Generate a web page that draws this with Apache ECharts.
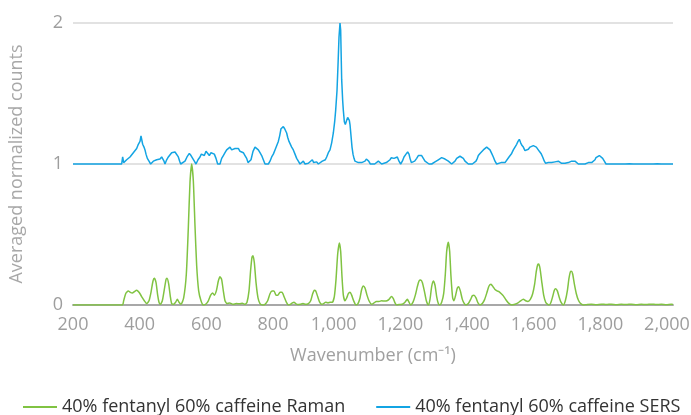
<!DOCTYPE html>
<html>
<head>
<meta charset="utf-8">
<script src="https://cdn.jsdelivr.net/npm/echarts@6/dist/echarts.min.js"></script>
<style>html,body{margin:0;padding:0;background:#fff;}#c{width:691px;height:415px;}</style>
</head>
<body>
<div id="c"></div>
<script>
const xTicks = [200, 400, 600, 800, 1000, 1200, 1400, 1600, 1800, 2000];
const yTicks = [0, 1, 2];
const seriesNames = ['40% fentanyl 60% caffeine Raman', '40% fentanyl 60% caffeine SERS'];

const ramanWavenumber = [200,348,352,358,366,372,378,384,391,398,406,414,421,428,434,440,444,449,454,458,462,468,474,479,482,487,492,496,502,508,513,518,524,532,540,546,551,556,561,566,571,577,584,591,598,606,613,619,624,630,636,641,646,651,656,662,670,680,690,700,708,716,722,728,733,737,740,744,749,755,761,768,776,784,791,797,803,809,815,821,827,833,840,846,852,858,863,868,874,882,890,898,906,913,919,924,928,934,940,946,952,958,965,972,978,984,989,994,999,1003,1007,1011,1016,1021,1026,1031,1036,1042,1049,1055,1061,1066,1071,1076,1082,1088,1096,1103,1110,1118,1126,1134,1142,1148,1153,1156,1161,1166,1171,1178,1188,1196,1203,1208,1213,1220,1227,1233,1238,1243,1248,1254,1260,1266,1271,1276,1281,1286,1291,1296,1300,1306,1312,1317,1321,1326,1330,1334,1339,1343,1348,1353,1357,1362,1368,1374,1379,1386,1393,1398,1403,1409,1415,1421,1428,1435,1442,1448,1454,1460,1466,1472,1478,1485,1491,1498,1506,1516,1526,1535,1543,1551,1558,1565,1572,1579,1585,1590,1594,1597,1601,1606,1612,1618,1624,1629,1634,1639,1644,1648,1653,1658,1664,1671,1677,1683,1688,1692,1695,1699,1704,1710,1716,1722,1731,1740,1755,1770,1785,1800,1815,1830,1845,1860,1875,1890,1905,1920,1935,1950,1965,1980,1995,2000];
const ramanCounts = [0,0,0.03,0.08,0.10,0.09,0.085,0.095,0.105,0.09,0.06,0.03,0.01,0.03,0.09,0.17,0.19,0.16,0.07,0.02,0.005,0.03,0.11,0.18,0.19,0.15,0.06,0.01,0.005,0.02,0.04,0.02,0.005,0.05,0.22,0.55,0.87,1.0,0.88,0.56,0.28,0.1,0.03,0.0,0.005,0.03,0.07,0.085,0.07,0.1,0.17,0.2,0.18,0.1,0.03,0.01,0.015,0.005,0.01,0.008,0.012,0.005,0.02,0.1,0.25,0.34,0.35,0.3,0.16,0.05,0.01,0.0,0.005,0.03,0.08,0.1,0.1,0.07,0.07,0.09,0.09,0.06,0.02,0.0,0.005,0.015,0.02,0.01,0.003,0.005,0.01,0.005,0.01,0.03,0.08,0.105,0.1,0.06,0.02,0.005,0.01,0.02,0.015,0.02,0.02,0.06,0.18,0.36,0.44,0.38,0.2,0.07,0.03,0.05,0.08,0.09,0.07,0.03,0.0,0.01,0.05,0.11,0.135,0.12,0.07,0.03,0.005,0.015,0.025,0.025,0.03,0.028,0.03,0.04,0.055,0.06,0.045,0.015,0.0,0.003,0.005,0.02,0.04,0.02,0.0,0.02,0.07,0.13,0.17,0.177,0.16,0.1,0.03,0.0,0.04,0.13,0.17,0.14,0.06,0.01,0.0,0.02,0.08,0.22,0.38,0.445,0.38,0.2,0.05,0.03,0.07,0.12,0.13,0.1,0.04,0.01,0.0,0.01,0.04,0.065,0.07,0.05,0.015,0.0,0.01,0.04,0.09,0.135,0.147,0.13,0.11,0.1,0.095,0.08,0.065,0.04,0.015,0.0,0.005,0.015,0.03,0.04,0.03,0.025,0.04,0.08,0.15,0.24,0.285,0.29,0.26,0.17,0.07,0.02,0.005,0.0,0.02,0.06,0.105,0.115,0.1,0.06,0.02,0.0,0.03,0.1,0.19,0.235,0.24,0.22,0.15,0.08,0.035,0.012,0.0,0.002,0.005,0.002,0.006,0.003,0.006,0.002,0.005,0.003,0.006,0.002,0.005,0.003,0.006,0.003,0.005,0.002,0.005,0.003];

const sersWavenumber = [200,346,349,352,356,361,366,371,376,381,386,391,396,401,404,406,409,413,416,419,423,428,433,437,441,446,451,456,461,466,469,473,476,481,486,491,496,501,506,511,516,520,523,529,536,542,549,554,559,564,569,575,581,585,589,594,599,604,609,614,619,624,629,634,641,646,651,656,661,666,671,676,681,686,691,696,701,706,711,716,721,725,728,734,740,746,751,756,761,766,771,776,781,786,791,796,801,806,811,816,820,824,828,831,835,838,841,844,848,851,856,861,866,871,876,881,886,891,896,901,906,911,918,922,926,931,936,942,948,953,957,961,966,971,976,981,985,988,992,995,998,1001,1003,1006,1009,1011,1014,1017,1021,1024,1026,1029,1031,1034,1037,1040,1043,1046,1051,1056,1061,1066,1071,1076,1080,1083,1087,1092,1098,1105,1110,1116,1121,1126,1132,1140,1145,1151,1155,1159,1163,1168,1173,1178,1183,1188,1193,1199,1204,1208,1211,1215,1219,1225,1231,1236,1241,1246,1251,1256,1262,1268,1276,1281,1286,1291,1296,1301,1306,1311,1316,1321,1326,1331,1336,1341,1346,1351,1356,1361,1366,1371,1376,1381,1386,1392,1398,1404,1409,1413,1416,1421,1426,1431,1436,1441,1446,1451,1456,1461,1466,1471,1477,1484,1490,1496,1501,1508,1512,1516,1521,1526,1531,1535,1539,1543,1546,1551,1556,1561,1566,1571,1576,1581,1586,1590,1594,1599,1604,1609,1614,1618,1621,1626,1631,1636,1641,1646,1651,1656,1661,1666,1671,1676,1681,1686,1691,1696,1701,1706,1711,1716,1721,1726,1731,1736,1741,1746,1751,1756,1761,1766,1769,1774,1779,1784,1789,1794,1799,1804,1809,1815,1821,1827,1833,1839,1845,1851,1857,1863,1869,1875,1881,1887,1893,1899,1905,1911,1917,1923,1929,1935,1941,1947,1953,1959,1965,1971,1977,1983,1989,1995,2000];
const sersCounts = [1.0,1.0,1.05,1.01,1.0,1.03,1.04,1.05,1.06,1.08,1.09,1.11,1.14,1.16,1.2,1.19,1.14,1.12,1.1,1.07,1.04,1.02,1.0,1.01,1.02,1.015,1.03,1.025,1.035,1.05,1.05,1.02,1.0,1.03,1.05,1.06,1.08,1.09,1.085,1.08,1.05,1.02,1.0,1.01,1.02,1.05,1.075,1.06,1.05,1.02,1.0,1.03,1.05,1.07,1.075,1.06,1.09,1.08,1.06,1.08,1.09,1.07,1.04,1.0,1.0,1.04,1.06,1.08,1.1,1.11,1.12,1.1,1.1,1.11,1.1,1.11,1.09,1.1,1.08,1.06,1.04,1.01,1.0,1.03,1.09,1.12,1.11,1.1,1.08,1.06,1.03,1.0,1.01,1.0,1.02,1.05,1.07,1.1,1.13,1.16,1.2,1.25,1.26,1.265,1.25,1.26,1.22,1.19,1.16,1.15,1.12,1.1,1.07,1.04,1.02,1.0,1.01,1.02,1.0,1.01,1.005,1.0,1.03,1.01,1.0,1.015,1.0,1.01,1.02,1.01,1.03,1.05,1.08,1.1,1.15,1.22,1.3,1.38,1.52,1.7,1.9,2.0,1.95,1.6,1.45,1.38,1.3,1.28,1.31,1.33,1.335,1.31,1.28,1.2,1.12,1.07,1.04,1.02,1.015,1.01,1.0,1.01,1.005,1.02,1.035,1.045,1.02,1.0,1.005,1.0,1.01,1.02,1.01,1.0,1.005,1.01,1.02,1.03,1.045,1.05,1.04,1.05,1.05,1.02,1.0,1.02,1.05,1.07,1.085,1.07,1.04,1.01,1.0,1.02,1.04,1.06,1.07,1.06,1.04,1.02,1.01,1.0,1.0,1.01,1.015,1.02,1.03,1.04,1.045,1.04,1.035,1.03,1.02,1.01,1.0,1.01,1.02,1.04,1.05,1.055,1.055,1.04,1.02,1.01,1.0,1.005,1.0,1.0,1.02,1.04,1.06,1.075,1.085,1.1,1.11,1.12,1.11,1.1,1.075,1.05,1.02,1.0,1.005,1.01,1.0,1.01,1.02,1.05,1.06,1.075,1.1,1.12,1.14,1.16,1.175,1.15,1.135,1.12,1.095,1.1,1.105,1.12,1.125,1.13,1.125,1.12,1.11,1.09,1.075,1.05,1.02,1.005,1.0,1.01,1.0,1.01,1.005,1.015,1.01,1.02,1.01,1.005,1.0,1.005,1.0,1.01,1.02,1.02,1.015,1.02,1.01,1.0,1.005,1.0,1.01,1.0,1.0,1.01,1.0,1.01,1.02,1.03,1.045,1.05,1.06,1.05,1.04,1.02,1.0,1.005,1.0,1.01,1.0,1.005,1.0,1.01,1.0,1.008,1.0,1.01,1.002,1.012,1.0,1.006,1.0,1.01,1.0,1.008,1.0,1.012,1.0,1.006,1.0,1.01,1.002,1.01,1.0,1.008,1.0,1.01,1.0,1.006,1.0];

const ramanData = ramanWavenumber.map((x, i) => [x, ramanCounts[i]]);
const sersData = sersWavenumber.map((x, i) => [x, sersCounts[i]]);

const chart = echarts.init(document.getElementById('c'), null, {renderer: 'canvas'});
const FONT = 'Open Sans';
const FS = 18;
chart.setOption({
  animation: false,
  backgroundColor: '#ffffff',
  textStyle: {fontFamily: FONT},
  grid: {left: 73, right: 18, top: 23, bottom: 110, containLabel: false, outerBoundsMode: 'none'},
  legend: {
    data: seriesNames,
    top: 393,
    left: 18,
    width: 690,
    padding: 5,
    icon: 'rect',
    itemWidth: 34,
    itemHeight: 2,
    itemGap: 31,
    textStyle: {fontSize: FS, color: '#333333', fontFamily: FONT}
  },
  xAxis: {
    type: 'value',
    min: xTicks[0],
    max: xTicks[xTicks.length - 1],
    interval: 200,
    name: 'Wavenumber (cm\u207B\u00B9)',
    nameLocation: 'middle',
    nameGap: 42,
    nameTextStyle: {fontSize: FS, color: '#a0a0a0', fontFamily: FONT},
    axisLine: {show: true, lineStyle: {color: '#a8a8a8', width: 2}},
    axisTick: {show: false},
    splitLine: {show: false},
    axisLabel: {
      fontSize: FS, color: '#9e9e9e', margin: 11, fontFamily: FONT,
      formatter: v => {
        if (!xTicks.includes(v)) return '';
        return v >= 1000 ? '{k|' + v.toLocaleString('en-US') + '}{s|}' : String(v);
      },
      rich: {
        k: {fontSize: FS, color: '#9e9e9e', fontFamily: FONT},
        s: {width: 12, height: 1}
      }
    }
  },
  yAxis: {
    type: 'value',
    min: yTicks[0],
    max: yTicks[yTicks.length - 1],
    interval: 1,
    name: 'Averaged normalized counts',
    nameLocation: 'middle',
    nameGap: 47,
    nameTextStyle: {fontSize: FS, color: '#a8a8a8', fontFamily: FONT},
    axisLine: {show: false},
    axisTick: {show: false},
    splitLine: {show: true, lineStyle: {color: '#e2e2e2', width: 2}},
    axisLabel: {fontSize: FS, color: '#9e9e9e', margin: 10, fontFamily: FONT}
  },
  series: [
    {
      name: seriesNames[0],
      type: 'line',
      data: ramanData,
      showSymbol: false,
      smooth: 0.2,
      lineStyle: {color: '#80c342', width: 1.5},
      itemStyle: {color: '#80c342'},
      z: 3
    },
    {
      name: seriesNames[1],
      type: 'line',
      data: sersData,
      showSymbol: false,
      lineStyle: {color: '#13a4e3', width: 1.5},
      itemStyle: {color: '#13a4e3'},
      z: 2
    }
  ]
});
</script>
</body>
</html>
